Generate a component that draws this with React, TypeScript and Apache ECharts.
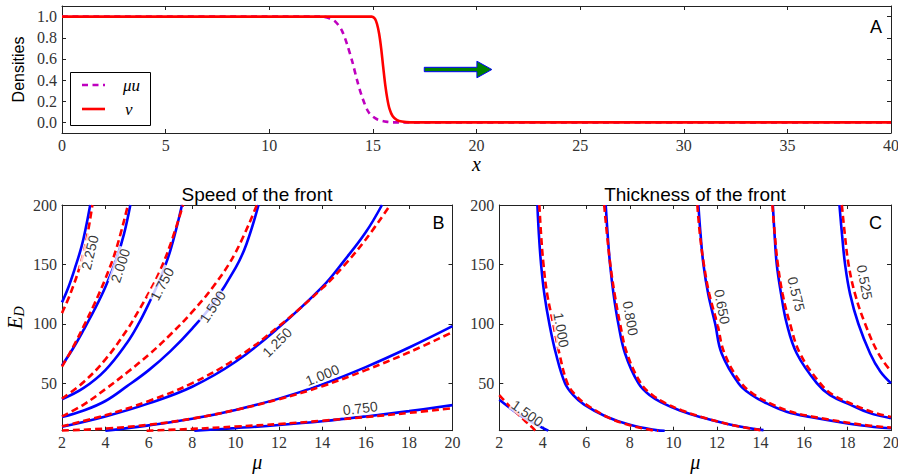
import React, { useEffect, useRef } from "react";
import * as echarts from "echarts";

// ---------- Panel A: density profiles ----------
const muU: [number, number][] = [
  [0, 1], [12.5, 1], [12.9, 0.985], [13.2, 0.95], [13.5, 0.87], [13.75, 0.74], [14.0, 0.58],
  [14.25, 0.39], [14.5, 0.23], [14.8, 0.095], [15.2, 0.03], [15.7, 0.005], [16.2, 0], [40, 0],
];
const vDen: [number, number][] = [
  [0, 1], [14.95, 1], [15.1, 0.98], [15.2, 0.93], [15.3, 0.84], [15.4, 0.7], [15.5, 0.52],
  [15.6, 0.35], [15.7, 0.22], [15.8, 0.13], [15.95, 0.06], [16.15, 0.025], [16.4, 0.008],
  [16.8, 0], [40, 0],
];
const legendNames = ["μu", "v"];
// arrow: [xStart, y, xHeadBase, xTip]
const arrowSpan = [[17.48, 0.5, 20.02, 20.74]];
const aYTicks = [0, 0.2, 0.4, 0.6, 0.8, 1.0];

// ---------- Panel B: speed of the front ----------
const speedLevels = ["2.250", "2.000", "1.750", "1.500", "1.250", "1.000", "0.750"];
const speedBlue: [number, number][][] = [
  [[2, 118], [2.3, 131], [2.6, 147], [2.9, 165], [3.1, 181], [3.3, 200]],
  [[2, 65], [2.5, 79], [3, 95], [3.5, 112], [4, 131], [4.5, 154], [4.85, 175], [5.15, 200]],
  [[2, 36.5], [3, 46], [4, 61], [5, 84], [5.5, 99], [6, 117], [6.5, 137], [7, 162], [7.53, 200]],
  [[2, 21.5], [3, 27], [4, 35], [5, 47.5], [6, 61], [7, 77], [8, 96], [9, 118], [10, 147], [10.5, 167], [11.06, 200]],
  [[2, 13.3], [4, 22], [6, 33], [8, 47], [10, 68], [12, 97], [14, 131], [15, 153], [16, 177], [16.75, 200]],
  [[4, 10], [6, 14.5], [8, 20], [10, 27.5], [12, 37], [14, 49], [16, 63.5], [18, 80], [20, 98]],
  [[8.1, 10], [10, 12.2], [12, 14.8], [14, 18], [16, 22], [18, 26.5], [20, 31.5]],
];
const speedRed: [number, number][][] = [
  [[2, 109], [2.4, 126], [2.8, 147], [3.1, 168], [3.4, 200]],
  [[2, 64], [2.5, 80], [3, 98], [3.5, 117], [4, 138], [4.5, 163], [5.04, 200]],
  [[2, 37], [3, 51], [4, 70], [5, 95], [5.5, 110], [6, 126], [6.5, 144], [7, 167], [7.58, 200]],
  [[2, 22], [3, 32], [4, 45], [5, 59], [6, 74], [7, 91], [8, 110], [9, 132], [10, 160], [10.98, 200]],
  [[2, 13.8], [4, 23], [6, 35], [8, 50], [10, 70.5], [12, 98], [14, 130], [15, 149], [16, 171], [17.13, 200]],
  [[2, 10.2], [4, 11.8], [6, 15], [8, 20.2], [10, 27.5], [12, 36.5], [14, 47.5], [16, 61], [18, 76], [20, 93]],
  [[5.9, 10], [8, 11.5], [10, 13.5], [12, 15.6], [14, 18.4], [16, 21.5], [18, 25], [20, 29]],
];
const speedLabelPos: [number, number][] = [
  [3.28, 160], [4.69, 149], [6.61, 133.5], [8.94, 114.4], [11.91, 84.4], [14.0, 56.8], [15.75, 28.9],
];
const speedLabelAngle = [76, 72, 62, 56, 45, 22, 7];

// ---------- Panel C: thickness of the front ----------
const thickLevels = ["1.500", "1.000", "0.800", "0.650", "0.575", "0.525"];
const thickBlue: [number, number][][] = [
  [[2, 36], [2.5, 29], [3, 22.5], [3.5, 17], [4, 12.3], [4.25, 10]],
  [[3.75, 200], [3.82, 175], [3.92, 150], [4.07, 125], [4.3, 100], [4.6, 75], [5.02, 50], [5.4, 40], [5.9, 32], [6.9, 22], [8, 15], [9.2, 10.5], [9.6, 10]],
  [[6.89, 200], [6.98, 175], [7.09, 150], [7.25, 125], [7.47, 100], [7.78, 75], [8.39, 50], [8.9, 40], [9.54, 33], [10.3, 27], [11.22, 21.6], [12.76, 14.6], [14.14, 10.5]],
  [[11.15, 200], [11.25, 175], [11.38, 150], [11.6, 125], [11.92, 100], [12.22, 75], [12.99, 50], [13.6, 40], [14.29, 33], [15.2, 26], [16.28, 21.6], [18.58, 14.6], [20, 12]],
  [[14.57, 200], [14.65, 175], [14.75, 150], [14.95, 125], [15.21, 100], [15.67, 75], [16.59, 50], [17.2, 40], [18.12, 32], [19, 25], [20, 20.5]],
  [[17.63, 200], [17.75, 175], [17.89, 150], [18.12, 125], [18.5, 100], [19.04, 75], [19.5, 60], [20, 50]],
];
const thickRed: [number, number][][] = [
  [[2, 40], [2.4, 32], [2.8, 25], [3.2, 18], [3.5, 13], [3.65, 10]],
  [[3.84, 200], [3.92, 175], [4.03, 150], [4.2, 125], [4.48, 100], [4.76, 75], [5.13, 50], [5.5, 40], [6.0, 32], [7.0, 21.2], [8.0, 14.5], [9.0, 10.5], [9.3, 10]],
  [[6.82, 200], [6.95, 175], [7.1, 150], [7.3, 125], [7.55, 100], [7.87, 75], [8.5, 50], [9.0, 40.5], [9.65, 33], [10.4, 27], [11.3, 21.5], [12.8, 14.3], [14, 10.5]],
  [[11.1, 200], [11.22, 175], [11.4, 150], [11.65, 125], [12.02, 100], [12.35, 75], [13.12, 50], [13.75, 40], [14.45, 33], [15.3, 26.5], [16.35, 22], [18.6, 15.2], [20, 12.6]],
  [[14.55, 200], [14.66, 175], [14.8, 150], [15.02, 125], [15.36, 100], [15.82, 75], [16.74, 50], [17.35, 40], [18.2, 32.5], [19.1, 26], [20, 21.5]],
  [[17.74, 200], [17.88, 175], [18.05, 150], [18.35, 125], [18.81, 100], [19.42, 75], [20, 60]],
];
const thickLabelPos: [number, number][] = [
  [3.29, 24.7], [4.85, 94.8], [8.03, 104.6], [12.24, 114.4], [15.65, 125], [18.79, 134.9],
];
const thickLabelAngle = [-35, -80, -80, -79, -76, -79];

const eTicks = [50, 100, 150, 200];

const SERIF = "'Liberation Serif', 'DejaVu Serif', serif";
const SANS = "'Liberation Sans', Arial, Helvetica, sans-serif";
const AXIS_COLOR = "#222";
const BLUE = "#0000ff";
const RED = "#ff0000";
const MAGENTA = "#bf00bf";

function xAxis(gridIndex: number, position: "bottom" | "top", min: number, max: number, interval: number, labels: boolean, extra: any = {}) {
  return {
    type: "value", gridIndex, position, min, max, interval,
    axisLine: { show: true, onZero: false, lineStyle: { color: AXIS_COLOR, width: 1 } },
    axisTick: { show: true, inside: true, length: 4, lineStyle: { color: AXIS_COLOR } },
    axisLabel: {
      show: labels, margin: 4, color: "#333", fontFamily: SERIF, fontSize: 16,
      showMinLabel: true, showMaxLabel: true,
    },
    splitLine: { show: false },
    ...extra,
  };
}

function yAxis(gridIndex: number, position: "left" | "right", min: number, max: number, ticks: number[], labels: boolean, fmt: (v: number) => string, extra: any = {}) {
  return {
    type: "value", gridIndex, position, min, max,
    axisLine: { show: true, onZero: false, lineStyle: { color: AXIS_COLOR, width: 1 } },
    axisTick: { show: true, inside: true, length: 4, customValues: ticks, lineStyle: { color: AXIS_COLOR } },
    axisLabel: {
      show: labels, margin: 5, color: "#333", fontFamily: SERIF, fontSize: 16,
      customValues: ticks, formatter: fmt,
    },
    splitLine: { show: false },
    ...extra,
  };
}

function contourSeries(lines: [number, number][][], axis: number, dashed: boolean, name: string) {
  return lines.map((d, i) => ({
    type: "line", name: `${name}-${i}`, xAxisIndex: axis, yAxisIndex: axis,
    data: d, symbol: "none", showSymbol: false, smooth: 0.4,
    lineStyle: dashed
      ? { color: RED, width: 2.6, type: [7, 4] }
      : { color: BLUE, width: 2.6, type: "solid" },
    z: dashed ? 4 : 3, silent: true,
  }));
}

function labelSeries(levels: string[], pos: [number, number][], angles: number[], axis: number) {
  return {
    type: "scatter", xAxisIndex: axis, yAxisIndex: axis, symbolSize: 0.1, z: 10, silent: true,
    itemStyle: { color: "rgba(0,0,0,0)" },
    data: levels.map((lv, i) => ({ name: lv, value: pos[i], label: { rotate: angles[i] } })),
    label: {
      show: true, position: "inside", formatter: (p: any) => p.name,
      fontFamily: SANS, fontSize: 14, color: "#000", backgroundColor: "#fff", padding: [0, 1],
    },
  };
}

export default function App() {
  const ref = useRef<HTMLDivElement>(null);
  useEffect(() => {
    document.body.style.margin = "0";
    if (!ref.current) return;
    const chart = echarts.init(ref.current, null, { renderer: "svg" });
    const gridA = { left: 62, top: 6, width: 829, height: 127, outerBoundsMode: "none" };
    const gridB = { left: 62, top: 205, width: 390.5, height: 225.7, outerBoundsMode: "none" };
    const gridC = { left: 499.3, top: 205, width: 391.7, height: 225.7, outerBoundsMode: "none" };
    const nameStyle = { fontFamily: SERIF, fontStyle: "italic", fontSize: 20, color: "#000" };
    const legendFont = `italic 17px ${SERIF}`;

    const option: any = {
      animation: false,
      backgroundColor: "#fff",
      grid: [gridA, gridB, gridC],
      xAxis: [
        xAxis(0, "bottom", 0, 40, 5, true, { name: "x", nameLocation: "middle", nameGap: 17, nameTextStyle: nameStyle }),
        xAxis(0, "top", 0, 40, 5, false),
        xAxis(1, "bottom", 2, 20, 2, true, { name: "μ", nameLocation: "middle", nameGap: 18, nameTextStyle: nameStyle }),
        xAxis(1, "top", 2, 20, 2, false),
        xAxis(2, "bottom", 2, 20, 2, true, { name: "μ", nameLocation: "middle", nameGap: 18, nameTextStyle: nameStyle }),
        xAxis(2, "top", 2, 20, 2, false),
      ],
      yAxis: [
        yAxis(0, "left", -0.1, 1.1, aYTicks, true, (v: number) => v.toFixed(1), {
          name: "Densities", nameLocation: "middle", nameGap: 29,
          nameTextStyle: { fontFamily: SANS, fontSize: 16, color: "#000" },
        }),
        yAxis(0, "right", -0.1, 1.1, aYTicks, false, (v: number) => v.toFixed(1)),
        yAxis(1, "left", 10, 200, eTicks, true, (v: number) => String(v), {
          name: "{e|E}{d|D}", nameLocation: "middle", nameGap: 36,
          nameTextStyle: {
            color: "#000",
            rich: {
              e: { fontFamily: SERIF, fontStyle: "italic", fontSize: 21, color: "#000" },
              d: { fontFamily: SERIF, fontStyle: "italic", fontSize: 14, color: "#000", padding: [9, 0, 0, 0] },
            },
          },
        }),
        yAxis(1, "right", 10, 200, eTicks, false, (v: number) => String(v)),
        yAxis(2, "left", 10, 200, eTicks, true, (v: number) => String(v)),
        yAxis(2, "right", 10, 200, eTicks, false, (v: number) => String(v)),
      ],
      graphic: [
        { type: "text", x: 876, y: 27, style: { text: "A", font: `18px ${SANS}`, fill: "#000", align: "center", verticalAlign: "middle" } },
        { type: "text", x: 438.5, y: 223, style: { text: "B", font: `18px ${SANS}`, fill: "#000", align: "center", verticalAlign: "middle" } },
        { type: "text", x: 875.5, y: 223, style: { text: "C", font: `18px ${SANS}`, fill: "#000", align: "center", verticalAlign: "middle" } },
        { type: "text", x: 257, y: 194, style: { text: "Speed of the front", font: `19px ${SANS}`, fill: "#000", align: "center", verticalAlign: "middle" } },
        { type: "text", x: 695, y: 194, style: { text: "Thickness of the front", font: `19px ${SANS}`, fill: "#000", align: "center", verticalAlign: "middle" } },
        // legend box of panel A
        {
          type: "group", z: 20, children: [
            { type: "rect", shape: { x: 70.5, y: 72.5, width: 80, height: 53 }, style: { fill: "#fff", stroke: "#000", lineWidth: 1 } },
            { type: "line", shape: { x1: 82, y1: 85, x2: 105, y2: 85 }, style: { stroke: MAGENTA, lineWidth: 2.6, lineDash: [6, 4.5] } },
            { type: "line", shape: { x1: 82, y1: 109, x2: 105, y2: 109 }, style: { stroke: RED, lineWidth: 2.6 } },
            { type: "text", x: 123, y: 85, style: { text: legendNames[0], font: legendFont, fill: "#000", align: "left", verticalAlign: "middle" } },
            { type: "text", x: 125, y: 109, style: { text: legendNames[1], font: legendFont, fill: "#000", align: "left", verticalAlign: "middle" } },
          ],
        },
      ],
      series: [
        {
          type: "line", name: legendNames[0], xAxisIndex: 0, yAxisIndex: 0, data: muU, symbol: "none", showSymbol: false,
          smooth: 0.3, lineStyle: { color: MAGENTA, width: 2.6, type: [6, 4.5] }, itemStyle: { color: MAGENTA }, z: 3,
        },
        {
          type: "line", name: legendNames[1], xAxisIndex: 0, yAxisIndex: 0, data: vDen, symbol: "none", showSymbol: false,
          smooth: 0.3, lineStyle: { color: RED, width: 2.6 }, itemStyle: { color: RED }, z: 4,
        },
        {
          type: "custom", xAxisIndex: 0, yAxisIndex: 0, data: arrowSpan, z: 5, silent: true,
          renderItem: (_p: any, api: any) => {
            const y = api.value(1);
            const a = api.coord([api.value(0), y]);
            const h = api.coord([api.value(2), y]);
            const t = api.coord([api.value(3), y]);
            const s = 2.2, hw = 8.3;
            return {
              type: "polygon",
              shape: {
                points: [
                  [a[0], a[1] - s], [h[0], a[1] - s], [h[0], a[1] - hw], [t[0], a[1]],
                  [h[0], a[1] + hw], [h[0], a[1] + s], [a[0], a[1] + s],
                ],
              },
              style: { fill: "#008000", stroke: "#0000ff", lineWidth: 1 },
            };
          },
        },
        ...contourSeries(speedBlue, 2, false, "speed-model"),
        ...contourSeries(speedRed, 2, true, "speed-approx"),
        labelSeries(speedLevels, speedLabelPos, speedLabelAngle, 2),
        ...contourSeries(thickBlue, 4, false, "thick-model"),
        ...contourSeries(thickRed, 4, true, "thick-approx"),
        labelSeries(thickLevels, thickLabelPos, thickLabelAngle, 4),
      ],
    };
    chart.setOption(option);
    return () => chart.dispose();
  }, []);
  return <div ref={ref} style={{ width: 898, height: 474 }} />;
}
